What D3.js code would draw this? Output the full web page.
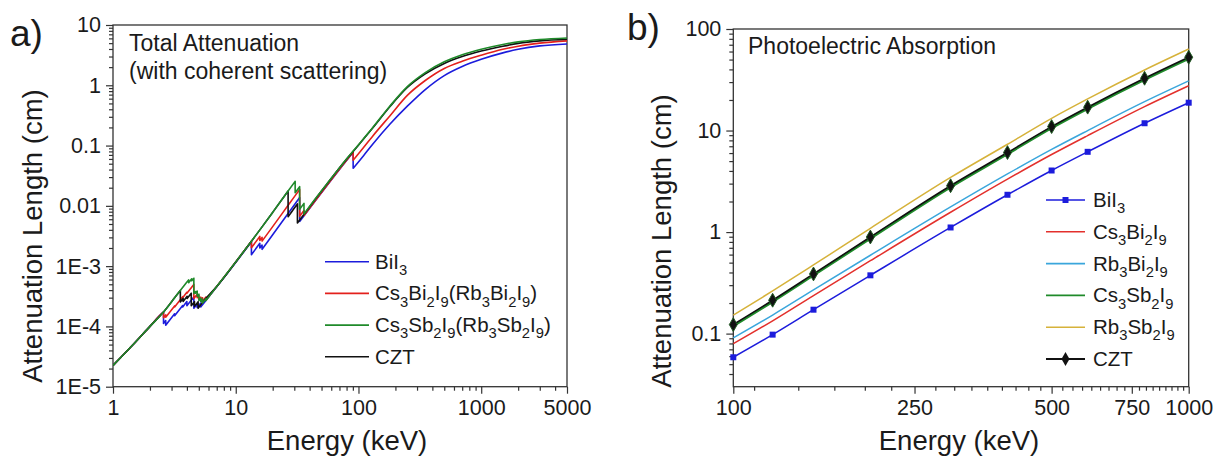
<!DOCTYPE html>
<html><head><meta charset="utf-8">
<script src="https://cdn.jsdelivr.net/npm/d3@7"></script>
<style>
body{margin:0;background:#fff}
svg{display:block}
text{font-family:"Liberation Sans",Arial,sans-serif;fill:#1a1a1a}
</style>
</head><body>
<svg id="c" width="1226" height="457"></svg>
<script>
// ---------------- Panel a data: total attenuation length (cm) vs energy (keV)
const namesA = ["BiI3", "Cs3Bi2I9(Rb3Bi2I9)", "Cs3Sb2I9(Rb3Sb2I9)", "CZT"];
const colorsA = ["#1c1cdc", "#e3201c", "#1f8a2a", "#111111"];

const energyBiI3 = [1,1.5,2,2.57,2.58,2.58,2.688,2.688,3.177,3.177,3.696,3.696,3.999,3.999,4.557,4.557,4.852,4.852,5.188,5.188,5.714,7,10,13.42,13.42,15.71,15.71,16.39,16.39,20,26.71,30.49,33.17,33.17,36,45,60,75,90.5,90.5,110,130,180,250,350,500,700,1000,1500,2000,3000,5000];
const lengthBiI3 = [2.25e-5,5.3e-5,1.0e-4,1.72e-4,1.73e-4,1.12e-4,1.25e-4,1.05e-4,1.62e-4,1.5e-4,2.22e-4,2.1e-4,2.58e-4,2.2e-4,3.09e-4,2.0e-4,2.35e-4,2.05e-4,2.44e-4,2.1e-4,2.7e-4,4.55e-4,1.15e-3,2.55e-3,1.55e-3,2.39e-3,2.0e-3,2.24e-3,1.9e-3,3.32e-3,7.48e-3,0.01084,0.01372,0.0055,6.86e-3,0.01254,0.0268,0.0479,0.0773,0.042,0.068,0.104,0.225,0.45,0.85,1.45,2.05,2.7,3.45,3.95,4.5,4.85];

const energyCsBi = [1,1.5,2,2.57,2.58,2.58,2.688,2.688,3.177,3.177,3.696,3.696,3.999,3.999,4.557,4.557,4.852,4.852,5.012,5.012,5.188,5.188,5.359,5.359,5.714,5.714,7,10,13.42,13.42,15.71,15.71,16.39,16.39,20,26.71,30.49,33.17,33.17,35.98,35.98,45,60,75,90.5,90.5,110,130,180,250,350,500,700,1000,1500,2000,3000,5000];
const lengthCsBi = [2.25e-5,5.3e-5,1.0e-4,1.72e-4,1.73e-4,1.39e-4,1.55e-4,1.42e-4,2.19e-4,2.1e-4,3.11e-4,3.0e-4,3.68e-4,3.55e-4,4.98e-4,2.9e-4,3.41e-4,3.0e-4,3.26e-4,2.8e-4,3.06e-4,2.75e-4,2.99e-4,2.6e-4,3.07e-4,2.75e-4,4.6e-4,1.17e-3,2.59e-3,2.02e-3,3.11e-3,2.67e-3,3.0e-3,2.6e-3,4.52e-3,0.0102,0.01479,0.01872,0.0067,8.35e-3,6.9e-3,0.01263,0.027,0.0483,0.078,0.0573,0.093,0.142,0.31,0.68,1.2,1.9,2.5,3.15,3.95,4.45,5.0,5.45];

const energyCsSb = [1,1.5,2,2.57,3.2,4.132,4.132,4.38,4.38,4.557,4.557,4.698,4.698,4.852,4.852,5.012,5.012,5.188,5.188,5.359,5.359,5.714,5.714,7,10,13.42,16.39,20,26.71,30.49,30.49,33.17,33.17,35.98,35.98,45,60,75,90.5,110,130,180,250,350,500,700,1000,1500,2000,3000,5000];
const lengthCsSb = [2.25e-5,5.3e-5,1.0e-4,1.72e-4,3.04e-4,5.9e-4,5.3e-4,6.16e-4,5.7e-4,6.3e-4,3.5e-4,3.79e-4,3.55e-4,3.86e-4,3.15e-4,3.43e-4,2.7e-4,2.95e-4,2.6e-4,2.83e-4,2.45e-4,2.89e-4,2.7e-4,4.58e-4,1.17e-3,2.59e-3,4.48e-3,7.8e-3,0.0176,0.0255,0.0165,0.0208,0.0088,0.011,0.0073,0.0135,0.0286,0.0511,0.081,0.13,0.196,0.45,0.95,1.62,2.45,3.2,3.95,4.75,5.25,5.75,6.1];

const energyCZT = [1,1.5,2,2.57,3.2,3.538,3.538,3.727,3.727,4.018,4.018,4.341,4.341,4.612,4.612,4.939,4.939,5.714,7,10,13.42,16.39,20,26.71,26.71,30.49,31.81,31.81,36,45,60,75,90.5,110,130,180,250,350,500,700,1000,1500,2000,3000,5000];
const lengthCZT = [2.25e-5,5.3e-5,1.0e-4,1.72e-4,3.04e-4,3.95e-4,2.55e-4,2.92e-4,2.6e-4,3.16e-4,2.9e-4,3.55e-4,2.2e-4,2.57e-4,2.15e-4,2.57e-4,2.0e-4,2.92e-4,4.6e-4,1.17e-3,2.59e-3,4.48e-3,7.8e-3,0.0176,0.0066,9.56e-3,0.0108,0.0052,7.26e-3,0.0133,0.0284,0.0507,0.08,0.128,0.193,0.44,0.92,1.55,2.3,3.0,3.7,4.45,4.95,5.45,5.8];

const xTicksA = [1, 10, 100, 1000, 5000];
const xTickLabelsA = ["1", "10", "100", "1000", "5000"];
const yTicksA = [1e-5, 1e-4, 1e-3, 0.01, 0.1, 1, 10];
const yTickLabelsA = ["1E-5", "1E-4", "1E-3", "0.01", "0.1", "1", "10"];

// ---------------- Panel b data: photoelectric absorption length (cm)
const energyB = [100, 122, 150, 200, 300, 400, 500, 600, 800, 1000];
const namesB = ["BiI3", "Cs3Bi2I9", "Rb3Bi2I9", "Cs3Sb2I9", "Rb3Sb2I9", "CZT"];
const colorsB = ["#1c1cdc", "#e3302c", "#3aa6dc", "#1f8a2a", "#d6b23a", "#111111"];
const photoBiI3 = [0.0585, 0.0977, 0.172, 0.375, 1.11, 2.33, 4.04, 6.17, 11.8, 18.8];
const photoCsBi = [0.0796, 0.1337, 0.2372, 0.5224, 1.567, 3.323, 5.805, 8.922, 17.22, 27.64];
const photoRbBi = [0.0907, 0.1522, 0.2694, 0.5914, 1.768, 3.737, 6.517, 9.995, 19.25, 30.83];
const photoCsSb = [0.119, 0.2066, 0.3754, 0.867, 2.774, 5.888, 10.61, 16.47, 31.72, 51.12];
const photoRbSb = [0.152, 0.263, 0.474, 1.09, 3.45, 7.33, 13.2, 20.5, 39.5, 63.5];
const photoCZT = [0.1227, 0.213, 0.387, 0.894, 2.86, 6.07, 10.94, 16.98, 32.7, 52.7];

const xTicksB = [100, 250, 500, 750, 1000];
const xTickLabelsB = ["100", "250", "500", "750", "1000"];
const yTicksB = [0.1, 1, 10, 100];
const yTickLabelsB = ["0.1", "1", "10", "100"];

// ---------------- drawing
const svg = d3.select("#c");
const frameColor = "#333";

function logMinor(lo, hi) {
  const out = [];
  for (let p = Math.floor(Math.log10(lo)); p <= Math.ceil(Math.log10(hi)); p++) {
    for (let m = 2; m <= 9; m++) {
      const v = m * Math.pow(10, p);
      if (v > lo * 1.0001 && v < hi * 0.9999) out.push(v);
    }
  }
  return out;
}

function axes(g, x, y, xt, xl, yt, yl, xMinor, yMinor) {
  const [x0, x1] = x.range(), [y0, y1] = y.range();
  const gx = g.append("g").attr("transform", `translate(0,${y0})`)
    .call(d3.axisBottom(x).tickValues(xMinor).tickSize(4).tickFormat(""));
  gx.select(".domain").remove();
  const gx2 = g.append("g").attr("transform", `translate(0,${y0})`)
    .call(d3.axisBottom(x).tickValues(xt).tickSize(7).tickPadding(6).tickFormat((d, i) => xl[i]));
  gx2.select(".domain").remove();
  const gy = g.append("g").attr("transform", `translate(${x0},0)`)
    .call(d3.axisLeft(y).tickValues(yMinor).tickSize(4).tickFormat(""));
  gy.select(".domain").remove();
  const gy2 = g.append("g").attr("transform", `translate(${x0},0)`)
    .call(d3.axisLeft(y).tickValues(yt).tickSize(7).tickPadding(5).tickFormat((d, i) => yl[i]));
  gy2.select(".domain").remove();
  g.selectAll(".tick line").attr("stroke", frameColor).attr("stroke-width", 1.2);
  g.selectAll(".tick text").attr("font-size", 21.5).attr("fill", "#1a1a1a")
    .attr("font-family", '"Liberation Sans",Arial,sans-serif');
  g.append("rect").attr("x", x0).attr("y", y1).attr("width", x1 - x0).attr("height", y0 - y1)
    .attr("fill", "none").attr("stroke", frameColor).attr("stroke-width", 1.3);
}

function chemText(sel, name, size) {
  const parts = name.match(/(\d+|\D+)/g);
  let sub = false;
  parts.forEach(p => {
    const isNum = /^\d+$/.test(p);
    const t = sel.append("tspan").text(p);
    if (isNum && !sub) { t.attr("dy", size * 0.3).attr("font-size", size * 0.72); sub = true; }
    else if (isNum) { t.attr("font-size", size * 0.72); }
    else if (sub) { t.attr("dy", -size * 0.3); sub = false; }
  });
}

function edgePath(x, y, es, vs) {
  // split into segments at absorption edges (repeated energies), smooth inside each
  const segs = []; let cur = [];
  es.forEach((e, i) => {
    if (cur.length && e <= cur[cur.length - 1][0]) { segs.push(cur); cur = []; }
    cur.push([e, vs[i]]);
  });
  segs.push(cur);
  const line = d3.line().x(d => x(d[0])).y(d => y(d[1])).curve(d3.curveMonotoneX);
  return segs.map((s, i) => {
    const p = s.length > 1 ? line(s) : `M${x(s[0][0])},${y(s[0][1])}`;
    return i === 0 ? p : "L" + p.slice(1);
  }).join("");
}

// ===== Panel a
const xA = d3.scaleLog().domain([1, 5000]).range([113, 567]);
const yA = d3.scaleLog().domain([1e-5, 10]).range([386.7, 25]);
const gA = svg.append("g");
axes(gA, xA, yA, xTicksA, xTickLabelsA, yTicksA, yTickLabelsA, logMinor(1, 5000), logMinor(1e-5, 10));

const seriesA = [
  [energyBiI3, lengthBiI3, 0],
  [energyCsBi, lengthCsBi, 1],
  [energyCZT, lengthCZT, 3],
  [energyCsSb, lengthCsSb, 2]
];
svg.append("clipPath").attr("id", "clipA").append("rect")
  .attr("x", 113).attr("y", 25).attr("width", 454).attr("height", 361.7);
seriesA.forEach(([es, vs, ci]) => {
  gA.append("path").attr("d", edgePath(xA, yA, es, vs))
    .attr("fill", "none").attr("stroke", colorsA[ci]).attr("stroke-width", 1.6)
    .attr("stroke-linejoin", "round").attr("clip-path", "url(#clipA)");
});

gA.append("text").attr("x", 129).attr("y", 51).attr("font-size", 23).text("Total Attenuation");
gA.append("text").attr("x", 129).attr("y", 79).attr("font-size", 23).text("(with coherent scattering)");

namesA.forEach((n, i) => {
  const yy = 261.7 + i * 31.7;
  gA.append("line").attr("x1", 325).attr("x2", 369).attr("y1", yy).attr("y2", yy)
    .attr("stroke", colorsA[i]).attr("stroke-width", 1.6);
  const t = gA.append("text").attr("x", 375).attr("y", yy + 7).attr("font-size", 20.5);
  chemText(t, n, 20.5);
});

gA.append("text").attr("transform", "translate(42,236) rotate(-90)").attr("text-anchor", "middle")
  .attr("font-size", 27.5).text("Attenuation Length (cm)");
gA.append("text").attr("x", 347).attr("y", 450).attr("text-anchor", "middle")
  .attr("font-size", 27.5).text("Energy (keV)");
gA.append("text").attr("x", 10).attr("y", 46).attr("font-size", 37).text("a)");

// ===== Panel b
const xB = d3.scaleLog().domain([100, 1000]).range([733.3, 1188.7]);
const yB = d3.scaleLog().domain([0.03, 100]).range([386.7, 29]);
const gB = svg.append("g");
// minor ticks: 8 per 250-keV step
const xMinorB = [];
for (let base = 0; base < 1000; base += 250) {
  for (let k = 1; k <= 8; k++) { const v = base + k * 250 / 9; if (v > 100 && v < 1000) xMinorB.push(v); }
}
const yMinorB = logMinor(0.03, 100);
axes(gB, xB, yB, xTicksB, xTickLabelsB, yTicksB, yTickLabelsB, xMinorB, yMinorB);

const seriesB = [photoBiI3, photoCsBi, photoRbBi, photoCsSb, photoRbSb, photoCZT];
const lineB = d3.line().x(d => xB(d[0])).y(d => yB(d[1])).curve(d3.curveMonotoneX);
const drawOrder = [0, 1, 2, 4, 3, 5];
drawOrder.forEach(i => {
  const pts = energyB.map((e, j) => [e, seriesB[i][j]]);
  gB.append("path").attr("d", lineB(pts)).attr("fill", "none")
    .attr("stroke", colorsB[i]).attr("stroke-width", i === 3 ? 2.6 : (i === 5 ? 1.6 : 1.5));
});
const sq = d3.symbol().type(d3.symbolSquare).size(36);
const dm = d3.symbol().type(d3.symbolDiamond).size(55);
energyB.forEach((e, j) => {
  gB.append("path").attr("d", sq()).attr("transform", `translate(${xB(e)},${yB(photoBiI3[j])})`)
    .attr("fill", colorsB[0]);
  gB.append("path").attr("d", dm()).attr("transform", `translate(${xB(e)},${yB(photoCZT[j])})`)
    .attr("fill", "#111").attr("stroke", "#1f5a22").attr("stroke-width", 1);
});

gB.append("text").attr("x", 748).attr("y", 54).attr("font-size", 23).text("Photoelectric Absorption");

namesB.forEach((n, i) => {
  const yy = 200 + i * 31.8;
  gB.append("line").attr("x1", 1046).attr("x2", 1085).attr("y1", yy).attr("y2", yy)
    .attr("stroke", colorsB[i]).attr("stroke-width", i === 5 ? 1.8 : 1.6);
  if (i === 0) gB.append("path").attr("d", sq()).attr("transform", `translate(1065.5,${yy})`).attr("fill", colorsB[0]);
  if (i === 5) gB.append("path").attr("d", dm()).attr("transform", `translate(1065.5,${yy})`).attr("fill", "#111");
  const t = gB.append("text").attr("x", 1093).attr("y", yy + 7).attr("font-size", 20.5);
  chemText(t, n, 20.5);
});

gB.append("text").attr("transform", "translate(671,241) rotate(-90)").attr("text-anchor", "middle")
  .attr("font-size", 27.5).text("Attenuation Length (cm)");
gB.append("text").attr("x", 959).attr("y", 450).attr("text-anchor", "middle")
  .attr("font-size", 27.5).text("Energy (keV)");
gB.append("text").attr("x", 627).attr("y", 40).attr("font-size", 37).text("b)");
</script>
</body></html>
